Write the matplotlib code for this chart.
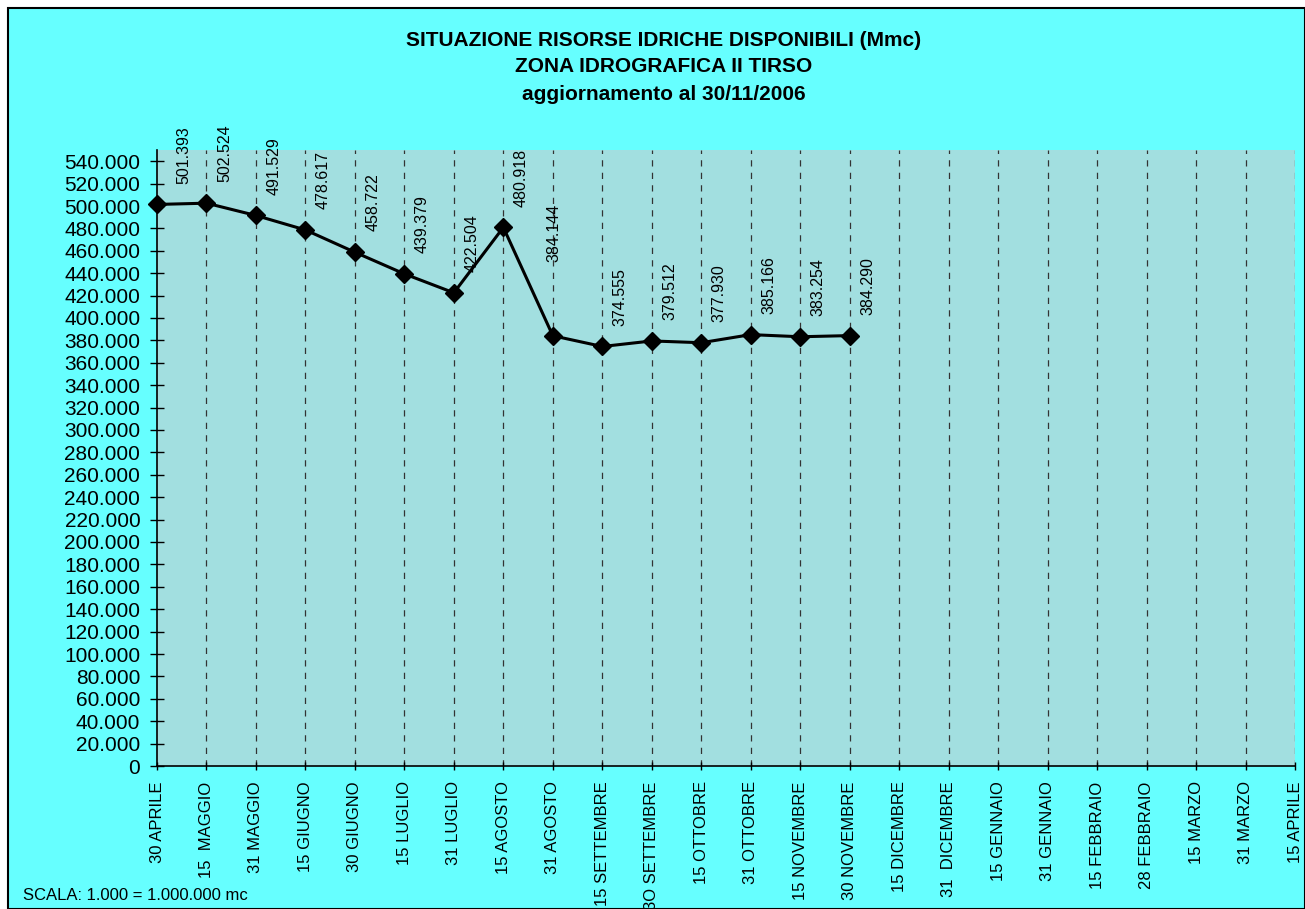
import matplotlib.pyplot as plt
import matplotlib.patches as patches
import numpy as np

plt.rcParams['font.family'] = ['Liberation Sans', 'DejaVu Sans']

# categorie asse x
dates = ["30 APRILE", "15  MAGGIO", "31 MAGGIO", "15 GIUGNO", "30 GIUGNO",
         "15 LUGLIO", "31 LUGLIO", "15 AGOSTO", "31 AGOSTO", "15 SETTEMBRE",
         "3O SETTEMBRE", "15 OTTOBRE", "31 OTTOBRE", "15 NOVEMBRE",
         "30 NOVEMBRE", "15 DICEMBRE", "31  DICEMBRE", "15 GENNAIO",
         "31 GENNAIO", "15 FEBBRAIO", "28 FEBBRAIO", "15 MARZO", "31 MARZO",
         "15 APRILE"]
# volumi disponibili (Mmc) fino al 30/11
volumes = [501.393, 502.524, 491.529, 478.617, 458.722, 439.379, 422.504,
           480.918, 384.144, 374.555, 379.512, 377.930, 385.166, 383.254,
           384.290]
yticks = list(range(0, 541, 20))

outer_bg = '#66FFFF'
plot_bg = '#A2DFE0'

fig = plt.figure(figsize=(13.05, 9.09), dpi=100)
fig.patch.set_facecolor('white')
# cornice esterna
fig.patches.append(patches.Rectangle((8 / 1305, 0), 1 - 8 / 1305, 1 - 8 / 909,
                                     transform=fig.transFigure,
                                     facecolor=outer_bg, edgecolor='black',
                                     linewidth=1.5, zorder=-10))

ax = fig.add_axes([157 / 1305, 1 - 766 / 909, (1295 - 157) / 1305, (766 - 150) / 909])
ax.set_facecolor(plot_bg)

x = np.arange(len(dates))
xv = np.arange(len(volumes))

for xi in x[1:]:
    ax.axvline(xi, color='#333333', linestyle=(0, (5, 5)), linewidth=0.9, zorder=1)

ax.plot(xv, volumes, color='black', linewidth=2.2, marker='D', markersize=9,
        markerfacecolor='black', zorder=3, clip_on=False)

# etichette dati (spostamenti in punti)
for i, v in enumerate(volumes):
    dx, dy = 13, 15
    if i == 0:
        dx = 19
    if i == 8:
        dx, dy = 1, 53
    ax.annotate(f"{v:.3f}", (i, v), xytext=(dx, dy), textcoords='offset points',
                rotation=90, ha='center', va='bottom', fontsize=11.5)

ax.set_xlim(0, len(dates) - 1)
ax.set_ylim(0, 550)
ax.set_xticks(x)
ax.set_xticklabels(dates, rotation=90, fontsize=12, va='top')
ax.set_yticks(yticks)
ax.set_yticklabels(["0" if t == 0 else f"{t}.000" for t in yticks], fontsize=15)
ax.tick_params(axis='y', direction='inout', length=10, width=1, pad=7)
ax.tick_params(axis='x', direction='inout', length=6, width=1, pad=8)
ax.spines['top'].set_visible(False)
ax.spines['right'].set_visible(False)
ax.spines['left'].set_linewidth(1.2)
ax.spines['bottom'].set_linewidth(1.2)

for txt, ypix in [("SITUAZIONE RISORSE IDRICHE DISPONIBILI (Mmc)", 40),
                  ("ZONA IDROGRAFICA II TIRSO", 67),
                  ("aggiornamento al 30/11/2006", 95)]:
    fig.text(664 / 1305, 1 - ypix / 909, txt, ha='center', va='center',
             fontsize=15, fontweight='bold')
fig.text(23 / 1305, 1 - 896 / 909, "SCALA: 1.000 = 1.000.000 mc",
         ha='left', va='center', fontsize=12)

fig.savefig('out.png', dpi=100, facecolor=fig.get_facecolor())
